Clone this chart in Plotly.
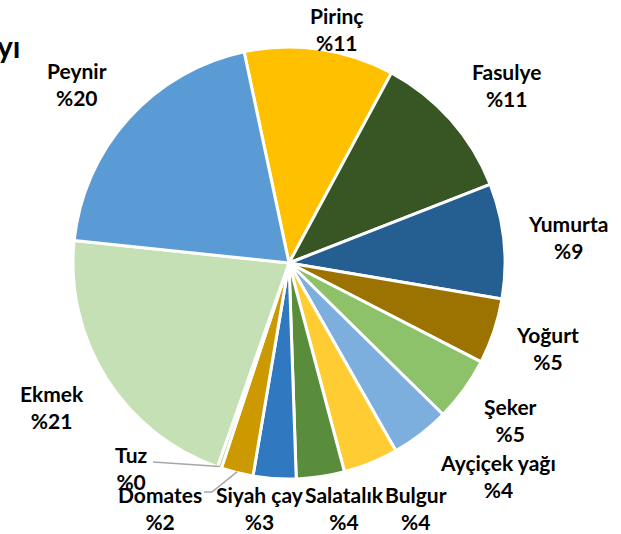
import math
import plotly.graph_objects as go

labels = ["Pirinç", "Fasulye", "Yumurta", "Yoğurt", "Şeker", "Ayçiçek yağı", "Bulgur",
          "Salatalık", "Siyah çay", "Domates", "Tuz", "Ekmek", "Peynir"]
values = [11.2, 11.2, 8.6, 4.9, 4.8, 4.4, 4.1, 3.6, 3.2, 2.4, 0.3, 21.3, 20.0]
colors = ["#FFC000", "#375623", "#255E91", "#9C7200", "#8DC26A", "#7CAFDD", "#FFCD33",
          "#5A8D3B", "#3079C0", "#CC9900", "#A9D18E", "#C5E0B4", "#5B9BD5"]
title_fragment = "yı"

# ---- layout / style (pixels) ----
W, H = 621, 534
cx, cy, r = 289, 263, 216
start_angle = -12  # degrees clockwise from 12 o'clock
# label block centres (style: data-label placement, Excel "best fit"-like)
label_pos = {
    "Pirinç": (336, 29), "Fasulye": (506, 85), "Yumurta": (568, 237),
    "Yoğurt": (547, 348), "Şeker": (510, 420), "Ayçiçek yağı": (498, 476),
    "Bulgur": (416, 508), "Salatalık": (344, 508), "Siyah çay": (260, 508),
    "Domates": (160, 508), "Tuz": (131, 468), "Ekmek": (52, 407), "Peynir": (77, 84),
}
# leader-line start points near the labels (style)
leaders = {"Tuz": [(153, 462)], "Domates": [(204, 492), (212, 492)]}
FONT = "Lato"

fig = go.Figure(go.Pie(
    labels=labels,
    values=values,
    sort=False,
    direction="clockwise",
    rotation=start_angle,
    marker=dict(colors=colors, line=dict(color="white", width=3)),
    textinfo="none",
    showlegend=False,
    domain=dict(x=[(cx - r) / W, (cx + r) / W],
                y=[(H - cy - r) / H, (H - cy + r) / H]),
    hoverinfo="label+value",
))


def px(x, y):
    return x / W, 1 - y / H


total = sum(values)
cum = 0.0
mid_angles = {}
for lab, v in zip(labels, values):
    mid = start_angle + 360 * (cum + v / 2) / total
    mid_angles[lab] = math.radians(mid)
    cum += v

for lab, v in zip(labels, values):
    x, y = px(*label_pos[lab])
    fig.add_annotation(
        text=f"<b>{lab}</b><br><b>%{round(v)}</b>",
        xref="paper", yref="paper", x=x, y=y, xanchor="center", yanchor="middle",
        showarrow=False, align="center",
        font=dict(family=FONT, size=21, color="black"))

for lab, pts in leaders.items():
    a = mid_angles[lab]
    ex, ey = cx + (r - 1) * math.sin(a), cy - (r - 1) * math.cos(a)
    path_pts = pts + [(ex, ey)]
    path = "M " + " L ".join(f"{px(x, y)[0]},{px(x, y)[1]}" for x, y in path_pts)
    fig.add_shape(type="path", path=path, xref="paper", yref="paper",
                  line=dict(color="#A6A6A6", width=1.5))

fig.add_annotation(text="<b>" + title_fragment + "</b>", xref="paper", yref="paper",
                   x=22 / W, y=1 - 46 / H, xanchor="right", yanchor="middle",
                   showarrow=False, font=dict(family=FONT, size=30, color="black"))

fig.update_layout(width=W, height=H, margin=dict(l=0, r=0, t=0, b=0),
                  paper_bgcolor="white", plot_bgcolor="white")

fig.write_html("out.html", config={"displayModeBar": False},
               post_script="document.body.style.margin='0';")
